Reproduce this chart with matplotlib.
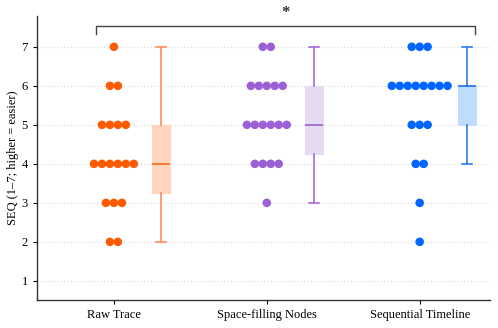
import matplotlib
matplotlib.use("Agg")
import matplotlib.pyplot as plt
import numpy as np

plt.rcParams['font.family'] = ['Liberation Serif', 'DejaVu Serif']

categories = ["Raw Trace", "Space-filling Nodes", "Sequential Timeline"]
raw_trace = [7, 6, 6, 5, 5, 5, 5, 4, 4, 4, 4, 4, 4, 3, 3, 3, 2, 2]
space_filling = [7, 7, 6, 6, 6, 6, 6, 5, 5, 5, 5, 5, 5, 4, 4, 4, 4, 3]
sequential = [7, 7, 7, 6, 6, 6, 6, 6, 6, 6, 6, 5, 5, 5, 4, 4, 3, 2]
series = [raw_trace, space_filling, sequential]

dot_colors = ["#FF5A00", "#9B5FD6", "#0066FF"]
line_colors = ["#FF8C5A", "#A66BDB", "#2F7CF0"]
fill_colors = ["#FFD5BE", "#E6DAF2", "#BFDBFE"]
median_colors = ["#FF6A20", "#9B5FD6", "#1F6FEA"]
yticks = [1, 2, 3, 4, 5, 6, 7]
ylabel = "SEQ (1\u20137; higher = easier)"
sig_label = "*"

fig = plt.figure(figsize=(4.98, 3.28), dpi=100)
ax = fig.add_axes([37/498, 28/328, (490-37)/498, (300-16)/328])

dot_step = 0.052
box_offset = 0.31
for i, vals in enumerate(series):
    vals = np.array(vals)
    xs, ys = [], []
    for v in sorted(set(vals)):
        n = int(np.sum(vals == v))
        offs = (np.arange(n) - (n - 1) / 2) * dot_step
        xs.extend(i + offs)
        ys.extend([v] * n)
    ax.scatter(xs, ys, s=38, color=dot_colors[i], edgecolor='none', zorder=3)
    bp = ax.boxplot([vals], positions=[i + box_offset], widths=0.12,
                    patch_artist=True, showfliers=False, whis=1.5,
                    manage_ticks=False)
    for b in bp['boxes']:
        b.set_facecolor(fill_colors[i])
        b.set_edgecolor(fill_colors[i])
        b.set_linewidth(0.8)
    for w in bp['whiskers']:
        w.set_color(line_colors[i]); w.set_linewidth(1.2)
    for c in bp['caps']:
        c.set_color(line_colors[i]); c.set_linewidth(1.2)
        xd = c.get_xdata()
        cx = (xd[0] + xd[1]) / 2
        c.set_xdata([cx - 0.033, cx + 0.033])
    for m in bp['medians']:
        m.set_color(median_colors[i]); m.set_linewidth(1.2)

ax.set_xlim(-0.503, 2.46)
ax.set_ylim(0.51, 7.79)
ax.set_yticks(yticks)
ax.set_xticks(range(len(categories)))
ax.set_xticklabels(categories, fontsize=9)
ax.tick_params(axis='y', labelsize=9, length=3, width=0.8)
ax.tick_params(axis='x', length=3, width=0.8)
ax.set_ylabel(ylabel, fontsize=9, labelpad=2)
ax.grid(axis='y', linestyle=(0, (1, 2)), color='#d8d8d8', linewidth=0.8)
ax.set_axisbelow(True)
for s in ['top', 'right']:
    ax.spines[s].set_visible(False)
for s in ['left', 'bottom']:
    ax.spines[s].set_color('#333333')
    ax.spines[s].set_linewidth(1.0)

# significance bracket
x0, x1 = -0.12, 2.36
yb, yt = 7.33, 7.54
ax.plot([x0, x0, x1, x1], [yb, yt, yt, yb], color='#444444', lw=1.0, clip_on=False)
ax.text((x0 + x1) / 2, 7.86, sig_label, ha='center', va='center', fontsize=12,
        fontweight='bold', color='#333333', clip_on=False)

fig.savefig("out.png", dpi=100)
